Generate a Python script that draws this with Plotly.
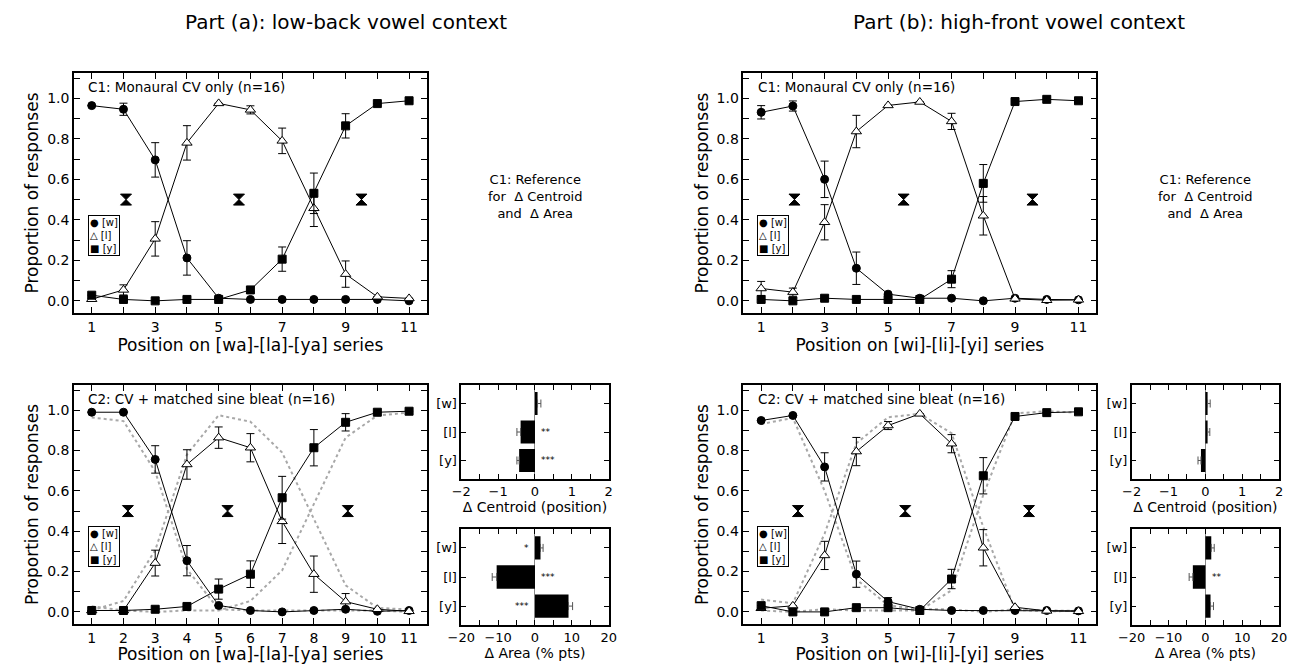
import plotly.graph_objects as go

W, H = 1293, 664
FONT = "DejaVu Sans"

positions = list(range(1, 12))
labels = ["[w]", "[l]", "[y]"]
legend_symbols = ["●", "△", "■"]

# ---------- Part (a): low-back vowel context ----------
a_c1_w = [0.964, 0.946, 0.696, 0.212, 0.013, 0.007, 0.007, 0.007, 0.007, 0.007, 0.0]
a_c1_w_err = [None, 0.03, 0.085, 0.085, None, None, None, None, None, None, None]
a_c1_l = [0.008, 0.054, 0.306, 0.78, 0.975, 0.943, 0.79, 0.457, 0.132, 0.02, 0.012]
a_c1_l_err = [None, 0.025, 0.085, 0.085, None, 0.02, 0.063, 0.09, 0.065, None, None]
a_c1_y = [0.028, 0.007, 0.0, 0.007, 0.007, 0.054, 0.206, 0.531, 0.864, 0.974, 0.988]
a_c1_y_err = [None, None, None, None, None, 0.015, 0.06, 0.1, 0.06, None, None]
a_c1_centroids = [2.08, 5.64, 9.50]

a_c2_w = [0.99, 0.99, 0.756, 0.254, 0.032, 0.007, 0.0, 0.007, 0.013, 0.003, 0.007]
a_c2_w_err = [None, None, 0.068, 0.075, None, None, None, None, None, None, None]
a_c2_l = [0.007, 0.007, 0.242, 0.731, 0.864, 0.814, 0.449, 0.187, 0.051, 0.013, 0.003]
a_c2_l_err = [None, None, 0.064, 0.073, 0.053, 0.07, 0.11, 0.09, 0.04, None, None]
a_c2_y = [0.007, 0.007, 0.013, 0.027, 0.113, 0.187, 0.566, 0.814, 0.94, 0.99, 0.995]
a_c2_y_err = [None, None, None, None, 0.05, 0.066, 0.106, 0.09, 0.043, None, None]
a_c2_centroids = [2.14, 5.28, 9.07]

a_dcentroid = [0.07, -0.39, -0.43]
a_dcentroid_err = [0.09, 0.10, 0.06]
a_dcentroid_sig = ["", "**", "***"]
a_darea = [1.5, -10.4, 9.1]
a_darea_err = [0.7, 1.2, 1.1]
a_darea_sig = ["*", "***", "***"]

# ---------- Part (b): high-front vowel context ----------
b_c1_w = [0.931, 0.962, 0.6, 0.161, 0.033, 0.013, 0.013, 0.0, 0.013, 0.007, 0.005]
b_c1_w_err = [0.033, 0.025, 0.09, 0.08, None, None, None, None, None, None, None]
b_c1_l = [0.061, 0.043, 0.388, 0.836, 0.965, 0.982, 0.886, 0.42, 0.01, 0.003, 0.005]
b_c1_l_err = [0.035, 0.02, 0.087, 0.08, None, None, 0.04, 0.095, None, None, None]
b_c1_y = [0.007, 0.0, 0.013, 0.007, 0.007, 0.007, 0.107, 0.58, 0.984, 0.995, 0.988]
b_c1_y_err = [None, None, None, None, None, None, 0.042, 0.093, None, None, None]
b_c1_centroids = [2.05, 5.49, 9.55]

b_c2_w = [0.949, 0.974, 0.719, 0.187, 0.051, 0.013, 0.007, 0.007, 0.007, 0.007, 0.005]
b_c2_w_err = [None, None, 0.07, 0.065, 0.02, None, None, None, None, None, None]
b_c2_l = [0.018, 0.03, 0.28, 0.795, 0.924, 0.982, 0.834, 0.318, 0.023, 0.005, 0.003]
b_c2_l_err = [None, None, 0.07, 0.07, 0.02, None, 0.045, 0.09, None, None, None]
b_c2_y = [0.031, 0.0, 0.0, 0.021, 0.021, 0.007, 0.163, 0.675, 0.969, 0.988, 0.992]
b_c2_y_err = [None, None, None, None, None, None, 0.048, 0.09, None, None, None]
b_c2_centroids = [2.16, 5.54, 9.44]

b_dcentroid = [0.06, 0.06, -0.12]
b_dcentroid_err = [0.07, 0.06, 0.08]
b_dcentroid_sig = ["", "", ""]
b_darea = [1.6, -3.4, 1.4]
b_darea_err = [0.8, 1.0, 0.8]
b_darea_sig = ["", "**", ""]


def dx(l, r):
    return [l / W, r / W]


def dy(t, b):
    return [1 - b / H, 1 - t / H]


fig = go.Figure()

MSTYLE = {
    "w": dict(symbol="circle", size=8, color="black", line=dict(color="black", width=1)),
    "l": dict(symbol="triangle-up", size=9, color="white", line=dict(color="black", width=1)),
    "y": dict(symbol="square", size=8, color="black", line=dict(color="black", width=1)),
}


def err(arr):
    return dict(type="data", array=arr, visible=True, color="black", thickness=1, width=4)


def main_panel(n, series, refs, centroids):
    xa, ya = ("x" if n == 1 else f"x{n}"), ("y" if n == 1 else f"y{n}")
    if refs is not None:
        for r in refs:
            fig.add_trace(go.Scatter(x=positions, y=r, mode="lines", xaxis=xa, yaxis=ya,
                                     line=dict(color="#a8a8a8", dash="dot", width=2),
                                     showlegend=False, hoverinfo="skip"))
    for key, vals, e in series:
        fig.add_trace(go.Scatter(x=positions, y=vals, mode="lines+markers", xaxis=xa, yaxis=ya,
                                 line=dict(color="black", width=1), marker=MSTYLE[key],
                                 error_y=err(e), showlegend=False))
    fig.add_trace(go.Scatter(x=centroids, y=[0.5] * len(centroids), mode="markers", xaxis=xa, yaxis=ya,
                             marker=dict(symbol="hourglass", size=11, color="black",
                                         line=dict(color="black", width=1)),
                             showlegend=False))


def bar_panel(n, vals, errs, sigs, span):
    xa, ya = f"x{n}", f"y{n}"
    plus = [e if v >= 0 else 0 for v, e in zip(vals, errs)]
    minus = [e if v < 0 else 0 for v, e in zip(vals, errs)]
    fig.add_trace(go.Bar(x=vals, y=[0, 1, 2], orientation="h", xaxis=xa, yaxis=ya, width=0.8,
                         marker=dict(color="black", line=dict(width=0)),
                         error_x=dict(type="data", symmetric=False, array=plus, arrayminus=minus,
                                      color="#555", thickness=1, width=4),
                         showlegend=False))
    off = 0.03 * span
    for i, (v, s) in enumerate(zip(vals, sigs)):
        if not s:
            continue
        right = v < 0
        fig.add_annotation(x=off if right else -off, y=i, xref=xa, yref=ya, text=s, showarrow=False,
                           xanchor="left" if right else "right", yanchor="middle",
                           font=dict(size=9, color="black", family=FONT))


# Part (a)
main_panel(1, [("w", a_c1_w, a_c1_w_err), ("l", a_c1_l, a_c1_l_err), ("y", a_c1_y, a_c1_y_err)],
           None, a_c1_centroids)
main_panel(2, [("w", a_c2_w, a_c2_w_err), ("l", a_c2_l, a_c2_l_err), ("y", a_c2_y, a_c2_y_err)],
           [a_c1_w, a_c1_l, a_c1_y], a_c2_centroids)
bar_panel(3, a_dcentroid, a_dcentroid_err, a_dcentroid_sig, 4)
bar_panel(4, a_darea, a_darea_err, a_darea_sig, 40)
# Part (b)
main_panel(5, [("w", b_c1_w, b_c1_w_err), ("l", b_c1_l, b_c1_l_err), ("y", b_c1_y, b_c1_y_err)],
           None, b_c1_centroids)
main_panel(6, [("w", b_c2_w, b_c2_w_err), ("l", b_c2_l, b_c2_l_err), ("y", b_c2_y, b_c2_y_err)],
           [b_c1_w, b_c1_l, b_c1_y], b_c2_centroids)
bar_panel(7, b_dcentroid, b_dcentroid_err, b_dcentroid_sig, 4)
bar_panel(8, b_darea, b_darea_err, b_darea_sig, 40)

axis_common = dict(showline=True, linecolor="black", linewidth=1.5, mirror="ticks", showgrid=False,
                   zeroline=False, ticks="inside", ticklen=6, tickcolor="black", tickwidth=1,
                   tickfont=dict(size=14, family=FONT, color="black"))

layout = dict(width=W, height=H, margin=dict(l=0, r=0, t=0, b=0), plot_bgcolor="white",
              paper_bgcolor="white", font=dict(family=FONT, color="black"), showlegend=False)


def main_axes(n, xl, xr, yt, yb, title, all_labels):
    xk = "xaxis" if n == 1 else f"xaxis{n}"
    yk = "yaxis" if n == 1 else f"yaxis{n}"
    anchor_x = "y" if n == 1 else f"y{n}"
    anchor_y = "x" if n == 1 else f"x{n}"
    tv = positions if all_labels else positions[::2]
    layout[xk] = dict(axis_common, domain=dx(xl, xr), anchor=anchor_x, range=[0.44, 11.56],
                      tickvals=tv, ticktext=[str(v) for v in tv],
                      minor=dict(tick0=1, dtick=1, ticks="inside", ticklen=6, tickcolor="black"),
                      title=dict(text=title, font=dict(size=17, family=FONT), standoff=1))
    layout[yk] = dict(axis_common, domain=dy(yt, yb), anchor=anchor_y, range=[-0.06, 1.125],
                      tickvals=[0, 0.2, 0.4, 0.6, 0.8, 1.0], tickformat=".1f",
                      minor=dict(dtick=0.1, ticks="inside", ticklen=6, tickcolor="black"),
                      title=dict(text="Proportion of responses", font=dict(size=17, family=FONT), standoff=4))


def bar_axes(n, xl, xr, yt, yb, rng, dtick, minor, title):
    layout[f"xaxis{n}"] = dict(axis_common, domain=dx(xl, xr), anchor=f"y{n}", range=rng, dtick=dtick,
                               tickfont=dict(size=13, family=FONT), ticklen=5,
                               zeroline=True, zerolinecolor="#888", zerolinewidth=1,
                               minor=dict(dtick=minor, ticks="inside", ticklen=5, tickcolor="black"),
                               title=dict(text=title, font=dict(size=14, family=FONT), standoff=2))
    layout[f"yaxis{n}"] = dict(axis_common, domain=dy(yt, yb), anchor=f"x{n}", range=[2.65, -0.65],
                               tickvals=[0, 1, 2], ticktext=labels, ticklen=5,
                               tickfont=dict(size=13, family=FONT))


ta = "Position on [wa]-[la]-[ya] series"
tb = "Position on [wi]-[li]-[yi] series"
main_axes(1, 61, 420, 73, 313, ta, False)
main_axes(2, 61, 420, 385, 624, ta, True)
bar_axes(3, 455, 605, 385, 479, [-2, 2], 1, 0.5, "Δ Centroid (position)")
bar_axes(4, 455, 605, 529, 625, [-20, 20], 10, 5, "Δ Area (% pts)")
main_axes(5, 742, 1101, 73, 313, tb, False)
main_axes(6, 742, 1101, 385, 624, tb, False)
bar_axes(7, 1137, 1287, 385, 479, [-2, 2], 1, 0.5, "Δ Centroid (position)")
bar_axes(8, 1137, 1287, 529, 625, [-20, 20], 10, 5, "Δ Area (% pts)")

fig.update_layout(**layout)

annots = [
    dict(text="Part (a): low-back vowel context", x=338 / W, y=1 - 22 / H, size=20),
    dict(text="Part (b): high-front vowel context", x=1022 / W, y=1 - 22 / H, size=20),
    dict(text="C1: Reference<br>for  Δ Centroid<br>and  Δ Area", x=530 / W, y=1 - 196 / H, size=13),
    dict(text="C1: Reference<br>for  Δ Centroid<br>and  Δ Area", x=1212 / W, y=1 - 196 / H, size=13),
]
for a in annots:
    fig.add_annotation(text=a["text"], x=a["x"], y=a["y"], xref="paper", yref="paper", showarrow=False,
                       xanchor="center", yanchor="middle", align="center",
                       font=dict(size=a["size"], family=FONT, color="black"))

panel_labels = [("x", "y", "C1: Monaural CV only (n=16)"),
                ("x2", "y2", "C2: CV + matched sine bleat (n=16)"),
                ("x5", "y5", "C1: Monaural CV only (n=16)"),
                ("x6", "y6", "C2: CV + matched sine bleat (n=16)")]
for xr, yr, t in panel_labels:
    fig.add_annotation(text=t, x=0.035, y=0.985, xref=f"{xr} domain", yref=f"{yr} domain",
                       showarrow=False, xanchor="left", yanchor="top",
                       font=dict(size=13.5, family=FONT, color="black"))

# Compact key boxes (legend) inside each main panel
legend_text = "<br>".join(f"{s} {l}" for s, l in zip(legend_symbols, labels))
for xr, yr in [("x", "y"), ("x2", "y2"), ("x5", "y5"), ("x6", "y6")]:
    fig.add_annotation(text=legend_text, x=0.04, y=0.41, xref=f"{xr} domain", yref=f"{yr} domain",
                       showarrow=False, xanchor="left", yanchor="top", align="left",
                       bgcolor="white", bordercolor="black", borderwidth=1, borderpad=1,
                       font=dict(size=10, family=FONT, color="black"))

fig.write_html("out.html")
